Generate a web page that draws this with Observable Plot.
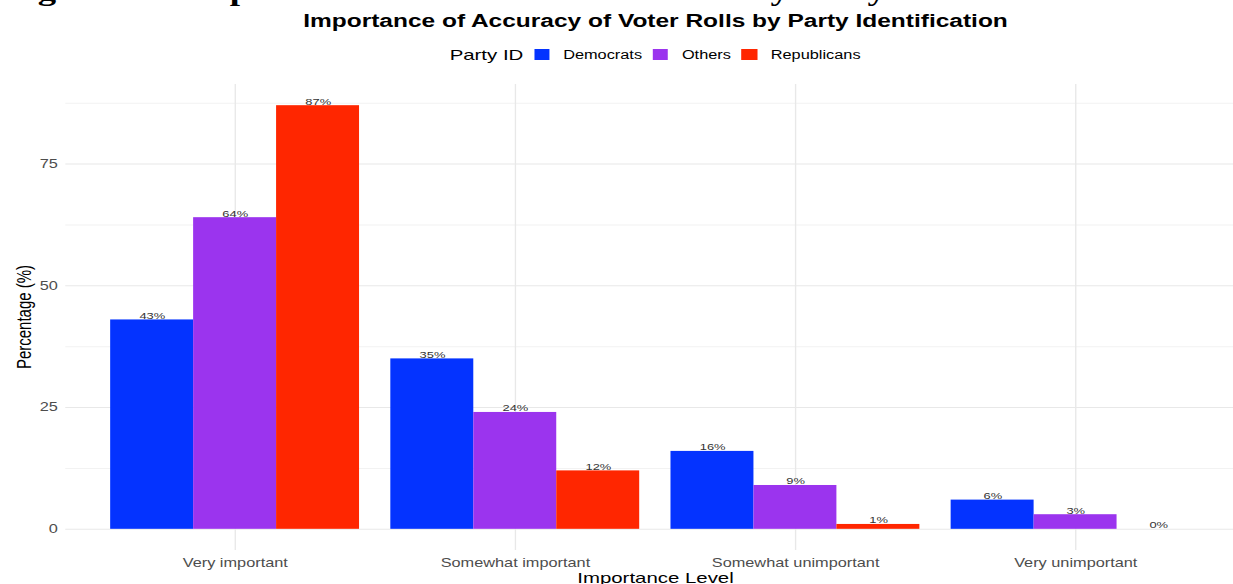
<!DOCTYPE html>
<html>
<head>
<meta charset="utf-8">
<script src="https://cdn.jsdelivr.net/npm/d3@7"></script>
<script src="https://cdn.jsdelivr.net/npm/@observablehq/plot@0.6"></script>
<style>
  html, body { margin: 0; padding: 0; background: #fff; }
  #page { position: relative; width: 1233px; height: 584px; overflow: hidden; background: #fff; }
  /* the whole figure is laid out narrow and widened horizontally */
  #stage { position: absolute; left: 0; top: 0; width: 930px; height: 584px;
           transform: scaleX(1.36); transform-origin: 0 0;
           font-family: "Liberation Sans", Arial, Helvetica, sans-serif; color: #000; }
  .abs { position: absolute; white-space: nowrap; line-height: 1; }
  #caption { left: 3.7px; top: -22.4px; font-family: "Liberation Serif", "Times New Roman", serif;
             font-weight: bold; font-size: 27px; }
  #title { left: 0; width: 964px; top: 11.8px; text-align: center; font-weight: bold; font-size: 18px; }
  #legend { left: 3.7px; width: 964px; top: 47px; height: 15px; display: flex; justify-content: center; align-items: center; }
  #legend .ltitle { font-size: 15px; line-height: 15px; margin-right: 8px; }
  #legend .sw { width: 11.3px; height: 11.3px; margin-right: 10px; }
  #legend .lab { font-size: 12px; line-height: 12px; margin-right: 8px; }
  #ytitle { left: 16.9px; top: 317px; font-size: 15px; transform: translate(-50%, -50%) rotate(-90deg); }
  #xtitle { left: 0; width: 964px; top: 570.3px; text-align: center; font-size: 15px; }
  .layer { position: absolute; left: 0; top: 70px; }
</style>
</head>
<body>
<div id="page">
  <div id="stage">
    <div id="caption" class="abs">Figure 5.6: Importance of Accurate Voter Rolls by Party Identification</div>
    <div id="title" class="abs">Importance of Accuracy of Voter Rolls by Party Identification</div>
    <div id="legend" class="abs"></div>
    <div id="ytitle" class="abs">Percentage (%)</div>
    <div id="xtitle" class="abs">Importance Level</div>
    <div id="panel" class="layer"></div>
    <div id="bars" class="layer"></div>
  </div>
</div>
<script>
// Survey shares (%) per importance level, one array per party
const categories = ["Very important", "Somewhat important", "Somewhat unimportant", "Very unimportant"];
const parties = ["Democrats", "Others", "Republicans"];
const democrats = [43, 35, 16, 6];
const others = [64, 24, 9, 3];
const republicans = [87, 12, 1, 0];
const partyColors = ["#0433ff", "#9b34ee", "#ff2600"];
const yTicks = [0, 25, 50, 75];
const yMinorTicks = [12.5, 37.5, 62.5, 87.5];

const seriesByParty = {Democrats: democrats, Others: others, Republicans: republicans};
const rows = categories.flatMap((category, i) =>
  parties.map(party => ({category, party, value: seriesByParty[party][i]}))
);

// Legend
const legend = document.getElementById("legend");
const lt = document.createElement("span");
lt.className = "ltitle";
lt.textContent = "Party ID";
legend.appendChild(lt);
parties.forEach((p, i) => {
  const sw = document.createElement("span");
  sw.className = "sw";
  sw.style.background = partyColors[i];
  legend.appendChild(sw);
  const lab = document.createElement("span");
  lab.className = "lab";
  lab.textContent = p;
  legend.appendChild(lab);
});

const yMax = d3.max(rows, d => d.value);
const pad = yMax * 0.05;
const yDomain = [-pad, yMax + pad];

// Shared frame so both layers line up
const frame = {
  width: 930, height: 514,
  marginLeft: 48, marginRight: 14, marginTop: 14, marginBottom: 34,
  style: {fontFamily: "'Liberation Sans', Arial, sans-serif", fontSize: "12px", color: "#4d4d4d", background: "transparent"}
};
const bandOptions = {domain: categories, paddingInner: 0.1, paddingOuter: 0.15};

// Panel layer: grid lines and axes
const panel = Plot.plot({
  ...frame,
  x: {type: "band", ...bandOptions, label: null, tickSize: 0, tickPadding: 8},
  y: {domain: yDomain, ticks: yTicks, tickSize: 0, tickPadding: 6, label: null, tickFormat: d => String(d)},
  marks: [
    Plot.ruleY(yMinorTicks, {stroke: "#f2f2f2", strokeWidth: 1}),
    Plot.ruleY(yTicks, {stroke: "#e8e8e8", strokeWidth: 1}),
    Plot.ruleX(categories, {x: d => d, stroke: "#e8e8e8", strokeWidth: 1})
  ]
});
document.getElementById("panel").appendChild(panel);

// Bar layer: dodged bars per importance level with value labels
const bars = Plot.plot({
  ...frame,
  fx: {...bandOptions, axis: null, label: null},
  x: {domain: parties, padding: 0, axis: null},
  y: {domain: yDomain, axis: null},
  color: {domain: parties, range: partyColors},
  marks: [
    Plot.barY(rows, {fx: "category", x: "party", y: "value", fill: "party"}),
    Plot.text(rows, {fx: "category", x: "party", y: "value", text: d => `${d.value}%`,
                     lineAnchor: "bottom", dy: -1, fontSize: 9.5, fill: "#333"})
  ]
});
document.getElementById("bars").appendChild(bars);
</script>
</body>
</html>
